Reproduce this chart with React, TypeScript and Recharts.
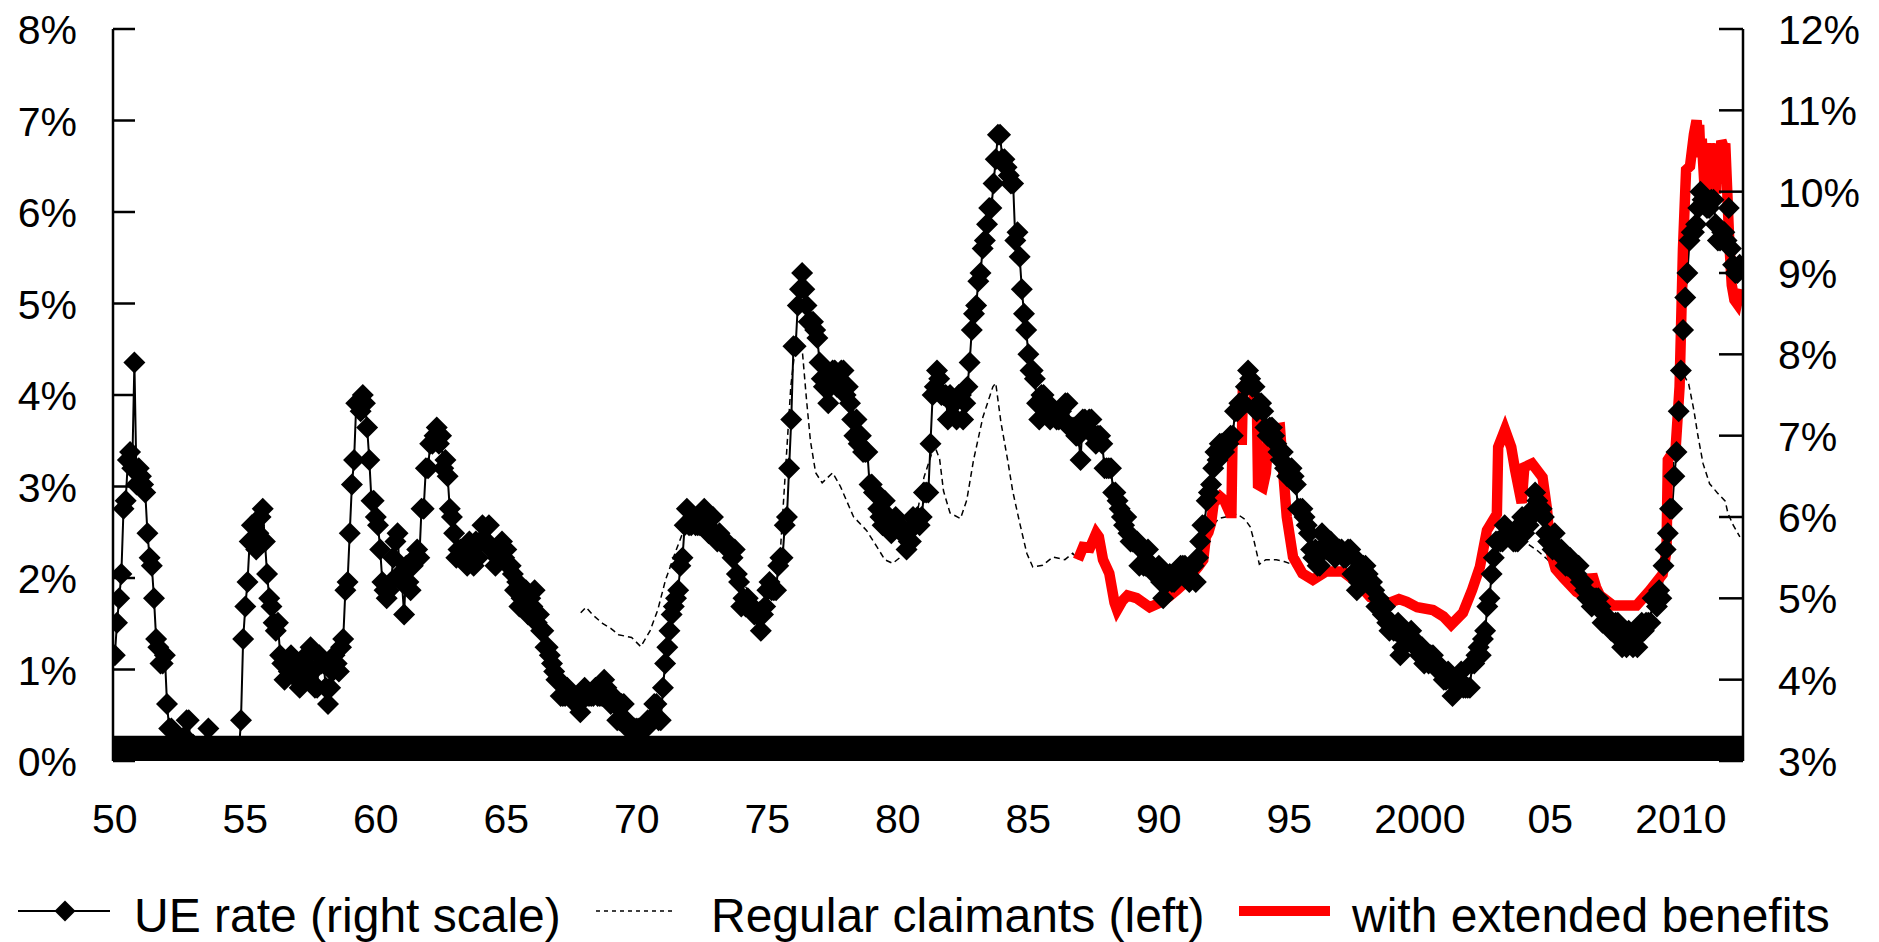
import React from 'react';
import { LineChart, Line, XAxis, YAxis, ReferenceArea } from 'recharts';

// ---------- data ----------
// Monthly unemployment rate (right scale); first observation sits at the "50" label.
const UE_START = 1950;
const ueRate: number[] = [
  4.3, 4.7, 5.0, 5.3, 6.1, 6.2, 6.7, 6.8, 6.6, 7.9, 6.4, 6.6,
  6.5, 6.4, 6.3, 5.8, 5.5, 5.4, 5.0, 4.5, 4.4, 4.2, 4.2, 4.3,
  3.7, 3.4, 3.4, 3.1, 3.0, 3.2, 3.1, 3.1, 3.3, 3.5, 3.5, 3.1,
  3.2, 3.1, 2.9, 2.9, 3.0, 3.0, 3.2, 3.4, 3.1, 3.0, 2.8, 2.7,
  2.9, 2.6, 2.6, 2.7, 2.5, 2.5, 2.6, 2.7, 2.9, 3.1, 3.5, 4.5,
  4.9, 5.2, 5.7, 5.9, 5.9, 5.6, 5.8, 6.0, 6.1, 5.7, 5.3, 5.0,
  4.9, 4.7, 4.6, 4.7, 4.3, 4.2, 4.0, 4.2, 4.1, 4.3, 4.2, 4.2,
  4.0, 3.9, 4.2, 4.0, 4.3, 4.3, 4.4, 4.1, 3.9, 3.9, 4.3, 4.2,
  4.2, 3.9, 3.7, 3.9, 4.1, 4.3, 4.2, 4.1, 4.4, 4.5, 5.1, 5.2,
  5.8, 6.4, 6.7, 7.4, 7.4, 7.3, 7.5, 7.4, 7.1, 6.7, 6.2, 6.2,
  6.0, 5.9, 5.6, 5.2, 5.1, 5.0, 5.1, 5.2, 5.5, 5.7, 5.8, 5.3,
  5.2, 4.8, 5.4, 5.2, 5.1, 5.4, 5.5, 5.6, 5.5, 6.1, 6.1, 6.6,
  6.6, 6.9, 6.9, 7.0, 7.1, 6.9, 7.0, 6.6, 6.7, 6.5, 6.1, 6.0,
  5.8, 5.5, 5.6, 5.6, 5.5, 5.5, 5.4, 5.7, 5.6, 5.4, 5.7, 5.5,
  5.7, 5.9, 5.7, 5.7, 5.9, 5.6, 5.6, 5.4, 5.5, 5.5, 5.7, 5.5,
  5.6, 5.4, 5.4, 5.3, 5.1, 5.2, 4.9, 5.0, 5.1, 5.1, 4.8, 5.0,
  4.9, 5.1, 4.7, 4.8, 4.6, 4.6, 4.4, 4.4, 4.3, 4.2, 4.1, 4.0,
  4.0, 3.8, 3.8, 3.8, 3.9, 3.8, 3.8, 3.8, 3.7, 3.7, 3.6, 3.8,
  3.9, 3.8, 3.8, 3.8, 3.8, 3.9, 3.8, 3.8, 3.8, 4.0, 3.9, 3.8,
  3.7, 3.8, 3.7, 3.5, 3.5, 3.7, 3.7, 3.5, 3.4, 3.4, 3.4, 3.4,
  3.4, 3.4, 3.4, 3.4, 3.4, 3.5, 3.5, 3.5, 3.7, 3.7, 3.5, 3.5,
  3.9, 4.2, 4.4, 4.6, 4.8, 4.9, 5.0, 5.1, 5.4, 5.5, 5.9, 6.1,
  5.9, 5.9, 6.0, 5.9, 5.9, 5.9, 6.0, 6.1, 6.0, 5.8, 6.0, 6.0,
  5.8, 5.7, 5.8, 5.7, 5.7, 5.7, 5.6, 5.6, 5.5, 5.6, 5.3, 5.2,
  4.9, 5.0, 4.9, 5.0, 4.9, 4.9, 4.8, 4.8, 4.8, 4.6, 4.8, 4.9,
  5.1, 5.2, 5.1, 5.1, 5.1, 5.4, 5.5, 5.5, 5.9, 6.0, 6.6, 7.2,
  8.1, 8.1, 8.6, 8.8, 9.0, 8.8, 8.6, 8.4, 8.4, 8.4, 8.3, 8.2,
  7.9, 7.7, 7.6, 7.7, 7.4, 7.6, 7.8, 7.8, 7.6, 7.7, 7.8, 7.8,
  7.5, 7.6, 7.4, 7.2, 7.0, 7.2, 6.9, 7.0, 6.8, 6.8, 6.8, 6.4,
  6.4, 6.3, 6.3, 6.1, 6.0, 5.9, 6.2, 5.9, 6.0, 5.8, 5.9, 6.0,
  5.9, 5.9, 5.8, 5.8, 5.6, 5.7, 5.7, 6.0, 5.9, 6.0, 5.9, 6.0,
  6.3, 6.3, 6.3, 6.9, 7.5, 7.6, 7.8, 7.7, 7.5, 7.5, 7.5, 7.2,
  7.5, 7.4, 7.4, 7.2, 7.5, 7.5, 7.2, 7.4, 7.6, 7.9, 8.3, 8.5,
  8.6, 8.9, 9.0, 9.3, 9.4, 9.6, 9.8, 9.8, 10.1, 10.4, 10.7, 10.7,
  10.4, 10.4, 10.3, 10.2, 10.1, 10.1, 9.4, 9.5, 9.2, 8.8, 8.5, 8.3,
  8.0, 7.8, 7.8, 7.7, 7.4, 7.2, 7.5, 7.5, 7.3, 7.4, 7.2, 7.3,
  7.3, 7.2, 7.2, 7.3, 7.2, 7.4, 7.4, 7.1, 7.1, 7.1, 7.0, 7.0,
  6.7, 7.2, 7.2, 7.1, 7.2, 7.2, 7.0, 6.9, 7.0, 7.0, 6.9, 6.6,
  6.6, 6.6, 6.6, 6.3, 6.3, 6.2, 6.1, 6.0, 5.9, 6.0, 5.8, 5.7,
  5.7, 5.7, 5.7, 5.4, 5.6, 5.4, 5.4, 5.6, 5.4, 5.4, 5.3, 5.3,
  5.4, 5.2, 5.0, 5.2, 5.2, 5.3, 5.2, 5.2, 5.3, 5.3, 5.4, 5.4,
  5.4, 5.3, 5.2, 5.4, 5.4, 5.2, 5.5, 5.7, 5.9, 5.9, 6.2, 6.3,
  6.4, 6.6, 6.8, 6.7, 6.9, 6.9, 6.8, 6.9, 6.9, 7.0, 7.0, 7.3,
  7.3, 7.4, 7.4, 7.4, 7.6, 7.8, 7.7, 7.6, 7.6, 7.3, 7.4, 7.4,
  7.3, 7.1, 7.0, 7.1, 7.1, 7.0, 6.9, 6.8, 6.7, 6.8, 6.6, 6.5,
  6.6, 6.6, 6.5, 6.4, 6.1, 6.1, 6.1, 6.0, 5.9, 5.8, 5.6, 5.5,
  5.6, 5.4, 5.4, 5.8, 5.6, 5.6, 5.7, 5.7, 5.6, 5.5, 5.6, 5.6,
  5.6, 5.5, 5.5, 5.6, 5.6, 5.3, 5.5, 5.1, 5.2, 5.2, 5.4, 5.4,
  5.3, 5.2, 5.2, 5.1, 4.9, 5.0, 4.9, 4.8, 4.9, 4.7, 4.6, 4.7,
  4.6, 4.6, 4.7, 4.3, 4.4, 4.5, 4.5, 4.5, 4.6, 4.5, 4.4, 4.4,
  4.3, 4.4, 4.2, 4.3, 4.2, 4.3, 4.3, 4.2, 4.2, 4.1, 4.1, 4.0,
  4.0, 4.1, 4.0, 3.8, 4.0, 4.0, 4.0, 4.1, 3.9, 3.9, 3.9, 3.9,
  4.2, 4.2, 4.3, 4.4, 4.3, 4.5, 4.6, 4.9, 5.0, 5.3, 5.5, 5.7,
  5.7, 5.7, 5.7, 5.9, 5.8, 5.8, 5.8, 5.7, 5.7, 5.7, 5.9, 6.0,
  5.8, 5.9, 5.9, 6.0, 6.1, 6.3, 6.2, 6.1, 6.1, 6.0, 5.8, 5.7,
  5.7, 5.6, 5.8, 5.6, 5.6, 5.6, 5.5, 5.4, 5.4, 5.5, 5.4, 5.4,
  5.3, 5.4, 5.2, 5.2, 5.1, 5.0, 5.0, 4.9, 5.0, 5.0, 5.0, 4.9,
  4.7, 4.8, 4.7, 4.7, 4.6, 4.6, 4.7, 4.7, 4.5, 4.4, 4.5, 4.4,
  4.6, 4.5, 4.4, 4.5, 4.4, 4.6, 4.7, 4.6, 4.7, 4.7, 4.7, 5.0,
  5.0, 4.9, 5.1, 5.0, 5.4, 5.6, 5.8, 6.1, 6.1, 6.5, 6.8, 7.3,
  7.8, 8.3, 8.7, 9.0, 9.4, 9.5, 9.5, 9.6, 9.8, 10.0, 9.9, 9.9,
  9.8, 9.8, 9.9, 9.9, 9.6, 9.4, 9.4, 9.5, 9.5, 9.4, 9.8, 9.3,
  9.1, 9.0, 9.0, 9.1,
];

// Regular claimants, % (left scale): [position on time axis, value]
const regularClaimants: [number, number][] = [
  [1967.85, 1.62], [1968.05, 1.68], [1968.3, 1.6], [1968.7, 1.5], [1969.0, 1.45],
  [1969.3, 1.38], [1969.8, 1.35], [1970.15, 1.25], [1970.5, 1.42], [1970.8, 1.65],
  [1971.1, 1.98], [1971.5, 2.3], [1971.9, 2.6], [1972.3, 2.6], [1972.8, 2.45],
  [1973.3, 2.3], [1973.8, 2.05], [1974.3, 1.85], [1974.8, 1.7], [1975.2, 1.85],
  [1975.5, 2.3], [1975.7, 3.2], [1975.9, 4.1], [1976.1, 4.6], [1976.35, 4.45],
  [1976.5, 3.95], [1976.65, 3.5], [1976.85, 3.15], [1977.1, 3.04], [1977.5, 3.15],
  [1977.8, 3.0], [1978.3, 2.67], [1978.8, 2.52], [1979.2, 2.34], [1979.5, 2.2],
  [1979.8, 2.16], [1980.2, 2.25], [1980.6, 2.5], [1981.0, 3.1], [1981.4, 3.45],
  [1981.6, 3.3], [1981.75, 2.95], [1982.0, 2.71], [1982.4, 2.65], [1982.64, 2.85],
  [1982.9, 3.29], [1983.26, 3.76], [1983.64, 4.09], [1983.75, 4.13], [1983.95, 3.7],
  [1984.2, 3.3], [1984.4, 2.95], [1984.67, 2.6], [1984.94, 2.27], [1985.17, 2.12],
  [1985.55, 2.14], [1985.94, 2.23], [1986.4, 2.2], [1986.7, 2.27], [1986.9, 2.2],
  [1987.1, 2.34], [1987.36, 2.33], [1987.6, 2.49], [1987.7, 2.45], [1987.86, 2.2],
  [1988.1, 2.05], [1988.3, 1.73], [1988.4, 1.65], [1988.6, 1.75], [1988.8, 1.81],
  [1989.15, 1.78], [1989.65, 1.68], [1990.04, 1.73], [1990.4, 1.8], [1990.7, 1.87],
  [1991.0, 1.95], [1991.3, 2.05], [1991.5, 2.12], [1991.7, 2.2], [1991.8, 2.4],
  [1992.0, 2.55], [1992.3, 2.65], [1992.6, 2.67], [1993.0, 2.7], [1993.3, 2.64],
  [1993.5, 2.56], [1993.65, 2.4], [1993.85, 2.15], [1994.1, 2.2], [1994.5, 2.2],
  [1994.8, 2.18], [1995.1, 2.15], [1995.5, 2.03], [1995.9, 1.97], [1996.4, 2.06],
  [1997.05, 2.06], [1997.6, 1.94], [1998.1, 1.78], [1998.85, 1.72], [1999.2, 1.76],
  [1999.5, 1.73], [1999.9, 1.67], [2000.5, 1.64], [2000.9, 1.57], [2001.2, 1.48],
  [2001.65, 1.61], [2002.0, 1.86], [2002.3, 2.1], [2002.6, 2.35], [2003.0, 2.5],
  [2003.5, 2.55], [2004.0, 2.4], [2004.5, 2.3], [2004.9, 2.2], [2005.2, 2.08],
  [2005.5, 1.99], [2006.0, 1.84], [2006.25, 1.8], [2006.5, 1.84], [2006.6, 2.02],
  [2006.75, 1.89], [2006.9, 1.8], [2007.4, 1.69], [2008.3, 1.69], [2008.8, 1.85],
  [2009.3, 2.03], [2009.45, 2.3], [2009.6, 2.9], [2009.8, 3.5], [2010.0, 4.0],
  [2010.15, 4.2], [2010.3, 4.12], [2010.5, 3.83], [2010.65, 3.56], [2010.85, 3.25],
  [2011.1, 3.03], [2011.4, 2.93], [2011.7, 2.84], [2011.8, 2.71], [2012.0, 2.58],
  [2012.26, 2.45],
];

// Claimants including extended benefits, % (left scale)
const extendedBenefits: [number, number][] = [
  [1986.9, 2.2], [1987.1, 2.34], [1987.36, 2.33], [1987.6, 2.49], [1987.7, 2.45],
  [1987.86, 2.2], [1988.1, 2.05], [1988.3, 1.73], [1988.4, 1.65], [1988.6, 1.75],
  [1988.8, 1.81], [1989.15, 1.78], [1989.65, 1.68], [1990.04, 1.73], [1990.4, 1.8],
  [1990.7, 1.87], [1991.0, 1.95], [1991.3, 2.05], [1991.5, 2.12], [1991.7, 2.2],
  [1991.8, 2.45], [1991.9, 2.5], [1992.0, 2.6], [1992.1, 2.82], [1992.34, 2.89],
  [1992.5, 2.85], [1992.72, 2.71], [1992.78, 2.71], [1992.82, 3.51], [1993.18, 3.51],
  [1993.22, 4.09], [1993.5, 4.19], [1993.7, 3.9], [1993.76, 3.84], [1993.8, 3.02],
  [1993.98, 2.99], [1994.1, 3.15], [1994.22, 3.62], [1994.64, 3.64], [1994.75, 3.21],
  [1994.9, 2.67], [1995.14, 2.23], [1995.5, 2.05], [1995.9, 1.98], [1996.4, 2.07],
  [1997.05, 2.07], [1997.6, 1.95], [1998.1, 1.79], [1998.85, 1.73], [1999.2, 1.77],
  [1999.5, 1.74], [1999.9, 1.68], [2000.5, 1.65], [2000.9, 1.58], [2001.2, 1.49],
  [2001.65, 1.62], [2002.0, 1.87], [2002.3, 2.12], [2002.57, 2.52], [2002.8, 2.63],
  [2002.95, 2.7], [2003.0, 3.43], [2003.26, 3.62], [2003.5, 3.43], [2003.65, 3.18],
  [2003.9, 2.82], [2004.0, 3.21], [2004.3, 3.25], [2004.7, 3.1], [2004.87, 2.75],
  [2005.0, 2.3], [2005.2, 2.1], [2005.5, 2.0], [2006.0, 1.85], [2006.25, 1.81],
  [2006.5, 1.85], [2006.6, 2.04], [2006.75, 1.9], [2006.9, 1.81], [2007.4, 1.7],
  [2008.3, 1.7], [2008.8, 1.86], [2009.3, 2.04], [2009.45, 2.3], [2009.5, 3.29],
  [2009.8, 3.42], [2009.95, 4.09], [2010.08, 5.6], [2010.2, 6.46], [2010.35, 6.5],
  [2010.5, 6.85], [2010.6, 7.0], [2010.65, 6.85], [2010.7, 6.95], [2010.75, 6.6],
  [2010.8, 6.8], [2010.9, 6.3], [2010.95, 6.75], [2011.05, 6.2], [2011.1, 6.75],
  [2011.2, 6.3], [2011.25, 6.75], [2011.35, 6.2], [2011.4, 6.75], [2011.5, 6.4],
  [2011.55, 6.78], [2011.65, 6.7], [2011.7, 6.75], [2011.78, 6.2], [2011.85, 5.7],
  [2011.95, 5.2], [2012.05, 5.04], [2012.15, 5.0], [2012.27, 5.16],
];

const xTickYears = [1950, 1955, 1960, 1965, 1970, 1975, 1980, 1985, 1990, 1995, 2000, 2005, 2010];
const xTickLabels = ['50', '55', '60', '65', '70', '75', '80', '85', '90', '95', '2000', '05', '2010'];
const leftTicks = [0, 1, 2, 3, 4, 5, 6, 7, 8];
const rightTicks = [3, 4, 5, 6, 7, 8, 9, 10, 11, 12];
const legendLabels = ['UE rate (right scale)', 'Regular claimants (left)', 'with extended benefits'];
const X_DOMAIN: [number, number] = [1949.93, 2012.38];
const BAND_TOP = 0.275; // thick base band, left-scale units

// ---------- derived tables ----------
const ueData = ueRate.map((v, i) => ({ x: UE_START + i / 12, y: v }));
const regData = regularClaimants.map(([x, y]) => ({ x, y }));
const extData = extendedBenefits.map(([x, y]) => ({ x, y }));

const FONT = "'Liberation Sans', Arial, Helvetica, sans-serif";
const W = 1879;
const H = 942;
const DIAMOND_R = 11;

const diamondPoints = (cx: number, cy: number, r: number) =>
  `${cx},${cy - r} ${cx + r},${cy} ${cx},${cy + r} ${cx - r},${cy}`;

const renderDiamond = (p: any) => {
  const { cx, cy, index } = p;
  if (cx == null || cy == null || isNaN(cx) || isNaN(cy)) return <g key={`d${index}`} />;
  return <polygon key={`d${index}`} points={diamondPoints(cx, cy, DIAMOND_R)} fill="#000" stroke="none" />;
};

const renderLeftTick = (p: any) => {
  const { x, y, payload } = p;
  return (
    <g>
      <line x1={x} x2={x + 22} y1={y} y2={y} stroke="#000" strokeWidth={2.5} />
      <text x={x - 36} y={y + 15} textAnchor="end" fontSize={41} fontFamily={FONT} fill="#000">
        {`${payload.value}%`}
      </text>
    </g>
  );
};

const renderRightTick = (p: any) => {
  const { x, y, payload } = p;
  return (
    <g>
      <line x1={x - 24} x2={x} y1={y} y2={y} stroke="#000" strokeWidth={2.5} />
      <text x={x + 35} y={y + 15} textAnchor="start" fontSize={41} fontFamily={FONT} fill="#000">
        {`${payload.value}%`}
      </text>
    </g>
  );
};

const renderXTick = (p: any) => {
  const { x, y, payload } = p;
  const i = xTickYears.indexOf(payload.value);
  return (
    <text x={x} y={y + 72} textAnchor="middle" fontSize={41} fontFamily={FONT} fill="#000">
      {i >= 0 ? xTickLabels[i] : ''}
    </text>
  );
};

const Legend = () => (
  <svg width={W} height={H} style={{ position: 'absolute', left: 0, top: 0, pointerEvents: 'none' }}>
    <line x1={18} x2={110} y1={911} y2={911} stroke="#000" strokeWidth={2} />
    <polygon points={diamondPoints(65, 911, 10.5)} fill="#000" />
    <text x={134} y={932} fontSize={48} fontFamily={FONT} fill="#000">{legendLabels[0]}</text>
    <line x1={596} x2={674} y1={911} y2={911} stroke="#000" strokeWidth={1.5} strokeDasharray="4 4" />
    <text x={711} y={932} fontSize={48} fontFamily={FONT} fill="#000">{legendLabels[1]}</text>
    <line x1={1239} x2={1330} y1={911} y2={911} stroke="#ff0000" strokeWidth={10} />
    <text x={1352} y={932} fontSize={48} fontFamily={FONT} fill="#000">{legendLabels[2]}</text>
  </svg>
);

export default function App() {
  return (
    <div style={{ position: 'absolute', left: 0, top: 0, width: W, height: H, background: '#fff' }}>
      <LineChart width={W} height={H} margin={{ top: 29, right: 0, bottom: 0, left: 0 }}>
        <XAxis
          type="number"
          dataKey="x"
          domain={X_DOMAIN}
          allowDataOverflow
          ticks={xTickYears}
          interval={0}
          tickSize={0}
          tickMargin={0}
          axisLine={false}
          tickLine={false}
          height={181}
          tick={renderXTick}
        />
        <YAxis
          yAxisId="left"
          orientation="left"
          domain={[0, 8]}
          allowDataOverflow
          ticks={leftTicks}
          interval={0}
          width={113}
          tickSize={0}
          tickMargin={0}
          axisLine={{ stroke: '#000', strokeWidth: 2.5 }}
          tickLine={false}
          tick={renderLeftTick}
        />
        <YAxis
          yAxisId="right"
          orientation="right"
          domain={[3, 12]}
          allowDataOverflow
          ticks={rightTicks}
          interval={0}
          width={136}
          tickSize={0}
          tickMargin={0}
          axisLine={{ stroke: '#000', strokeWidth: 2.5 }}
          tickLine={false}
          tick={renderRightTick}
        />
        <ReferenceArea
          yAxisId="left"
          x1={X_DOMAIN[0]}
          x2={X_DOMAIN[1]}
          y1={0}
          y2={BAND_TOP}
          fill="#000"
          fillOpacity={1}
          stroke="none"
        />
        <Line
          yAxisId="right"
          data={ueData}
          dataKey="y"
          type="linear"
          stroke="#000"
          strokeWidth={2}
          dot={renderDiamond}
          activeDot={false}
          isAnimationActive={false}
        />
        <Line
          yAxisId="left"
          data={regData}
          dataKey="y"
          type="linear"
          stroke="#000"
          strokeWidth={1.5}
          strokeDasharray="6 4"
          dot={false}
          activeDot={false}
          isAnimationActive={false}
        />
        <Line
          yAxisId="left"
          data={extData}
          dataKey="y"
          type="linear"
          stroke="#ff0000"
          strokeWidth={10.5}
          strokeLinejoin="miter"
          dot={false}
          activeDot={false}
          isAnimationActive={false}
        />
      </LineChart>
      <Legend />
    </div>
  );
}
